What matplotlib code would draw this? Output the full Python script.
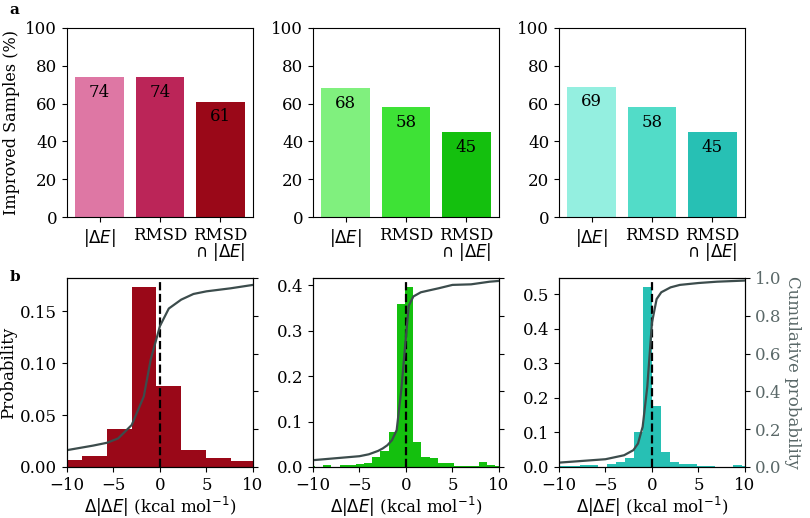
import numpy as np
import matplotlib
matplotlib.use("Agg")
import matplotlib.pyplot as plt
from matplotlib.ticker import MultipleLocator

plt.rcParams['font.family'] = 'DejaVu Serif'
plt.rcParams['mathtext.fontset'] = 'dejavusans'
plt.rcParams['font.size'] = 12

# ---- panel a: improved samples (%)
categories = ['$|\\Delta E|$', 'RMSD', 'RMSD\n$\\cap$ $|\\Delta E|$']
improved_1 = [74, 74, 61]
improved_2 = [68, 58, 45]
improved_3 = [69, 58, 45]
bar_colors_1 = ['#de77a4', '#bb2558', '#9a0818']
bar_colors_2 = ['#80f07e', '#3ee236', '#14c00e']
bar_colors_3 = ['#94efe0', '#52dcc8', '#27c0b4']

# ---- panel b: histograms of delta |dE| (bin left edges, widths, densities)
edges_1 = [-11.02, -8.36, -5.70, -3.04, -0.38, 2.28, 4.94, 7.60]
width_1 = 2.66
prob_1 = [0.0065, 0.0103, 0.0365, 0.1735, 0.0777, 0.0161, 0.0087, 0.0061]

edges_2 = [-10.66, -9.78, -8.90, -8.02, -7.14, -6.26, -5.38, -4.50, -3.62, -2.74,
           -1.86, -0.98, -0.10, 0.78, 1.66, 2.54, 3.42, 4.30, 5.18, 6.06,
           6.94, 7.82, 8.70, 9.58]
width_2 = 0.88
prob_2 = [0.002, 0.0, 0.005, 0.0, 0.004, 0.005, 0.007, 0.008, 0.022, 0.035,
          0.078, 0.358, 0.396, 0.056, 0.022, 0.020, 0.008, 0.008, 0.002, 0.002,
          0.003, 0.010, 0.005, 0.002]

edges_3 = [-10.67, -9.70, -8.73, -7.76, -6.79, -5.82, -4.85, -3.88, -2.91, -1.94,
           -0.97, 0.0, 0.97, 1.94, 2.91, 3.88, 4.85, 5.82, 6.79, 7.76,
           8.73, 9.70]
width_3 = 0.97
prob_3 = [0.002, 0.002, 0.003, 0.007, 0.007, 0.001, 0.010, 0.015, 0.026, 0.100,
          0.522, 0.178, 0.042, 0.014, 0.008, 0.008, 0.004, 0.003, 0.001, 0.001,
          0.005, 0.003]

# ---- cumulative probability curves
cum_x_1 = [-10, -7.2, -5.7, -4.5, -3.04, -1.74, -1.0, -0.38, 0.0, 0.95, 2.28, 3.6, 5.0, 7.6, 10]
cum_y_1 = [0.089, 0.113, 0.128, 0.151, 0.222, 0.373, 0.568, 0.678, 0.746, 0.838, 0.885, 0.915, 0.929, 0.945, 0.963]
cum_x_2 = [-10, -5, -4, -3, -2.5, -2, -1.5, -1, -0.5, 0, 0.3, 0.8, 1.6, 2.4, 3.5, 5, 7, 8, 9, 10]
cum_y_2 = [0.036, 0.057, 0.067, 0.085, 0.098, 0.115, 0.142, 0.195, 0.409, 0.693, 0.853, 0.902, 0.924, 0.933, 0.945, 0.963, 0.966, 0.973, 0.980, 0.984]
cum_x_3 = [-10, -5, -3, -2, -1.5, -1, -0.5, 0, 0.5, 1, 2, 3, 5, 7, 10]
cum_y_3 = [0.023, 0.041, 0.062, 0.089, 0.124, 0.213, 0.426, 0.764, 0.888, 0.924, 0.950, 0.963, 0.973, 0.980, 0.986]

line_color = '#3c4c4c'
label_gray = '#5a6868'

fig = plt.figure(figsize=(8.1, 5.18), dpi=100)
lefts = [0.0827, 0.3864, 0.6901]
w, h = 0.2296, 0.365

top_data = [(improved_1, bar_colors_1), (improved_2, bar_colors_2), (improved_3, bar_colors_3)]
for i, (vals, cols) in enumerate(top_data):
    ax = fig.add_axes([lefts[i], 0.581, w, h])
    xs = np.arange(len(vals))
    ax.bar(xs, vals, color=cols, width=0.8)
    for x, v in zip(xs, vals):
        ax.text(x, v - 3.5, str(v), ha='center', va='top', fontsize=12)
    ax.set_ylim(0, 100)
    ax.set_xticks(xs)
    ax.set_xticklabels(categories, linespacing=0.85)
    if i == 0:
        ax.set_ylabel('Improved Samples (%)', fontsize=11.5)

bottom_data = [(edges_1, width_1, prob_1, cum_x_1, cum_y_1, bar_colors_1[2]),
               (edges_2, width_2, prob_2, cum_x_2, cum_y_2, bar_colors_2[2]),
               (edges_3, width_3, prob_3, cum_x_3, cum_y_3, bar_colors_3[2])]
for i, (edges, bw, prob, cx, cy, col) in enumerate(bottom_data):
    ax = fig.add_axes([lefts[i], 0.0985, w, h])
    ax.bar(edges, prob, width=bw, align='edge', color=col)
    ax.set_xlim(-10, 10)
    ax.set_ylim(0, max(prob) * 1.05)
    ax.set_xticks([-10, -5, 0, 5, 10])
    if i == 2:
        ax.yaxis.set_major_locator(MultipleLocator(0.1))
    ax.axvline(0, color='black', ls='--', lw=1.6)
    ax.set_xlabel('$\\Delta|\\Delta E|$ (kcal mol$^{-1}$)', fontsize=12, labelpad=1)
    if i == 0:
        ax.set_ylabel('Probability', fontsize=12, labelpad=2)
    ax2 = ax.twinx()
    ax2.plot(cx, cy, color=line_color, lw=1.6)
    ax2.set_ylim(0, 1.0)
    ax2.set_xlim(-10, 10)
    if i < 2:
        ax2.set_yticklabels([])
    else:
        ax2.tick_params(axis='y', labelcolor=label_gray)
        ax2.set_ylabel('Cumulative probability', color=label_gray, rotation=270,
                       labelpad=14, fontsize=12)

fig.text(0.012, 0.995, 'a', fontweight='bold', fontsize=11, va='top')
fig.text(0.012, 0.478, 'b', fontweight='bold', fontsize=11, va='top')

fig.savefig('out.png', dpi=100)
